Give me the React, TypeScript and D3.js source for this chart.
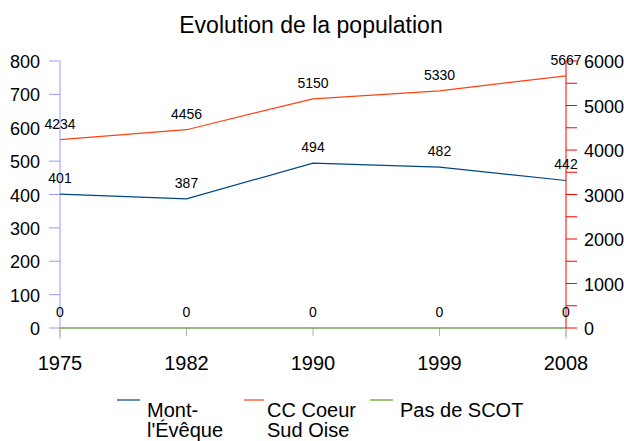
import React from "react";
import * as d3 from "d3";

const years = ["1975", "1982", "1990", "1999", "2008"];
const montEveque = [401, 387, 494, 482, 442];
const ccCoeur = [4234, 4456, 5150, 5330, 5667];
const pasDeScot = [0, 0, 0, 0, 0];
const leftTicks = [0, 100, 200, 300, 400, 500, 600, 700, 800];
const rightTicks = [0, 1000, 2000, 3000, 4000, 5000, 6000];
const rightMinor = d3.range(0, 6001, 500);

const FONT = "'Liberation Sans', Arial, sans-serif";

export default function App() {
  const W = 624, H = 441;
  const x0 = 60, x1 = 566, yTop = 61, yBot = 328;
  const x = d3.scalePoint<string>().domain(years).range([x0, x1]);
  const yL = d3.scaleLinear().domain([0, 800]).range([yBot, yTop]);
  const yR = d3.scaleLinear().domain([0, 6000]).range([yBot, yTop]);
  const lineL = d3.line<number>().x((_, i) => x(years[i])!).y((d) => yL(d));
  const lineR = d3.line<number>().x((_, i) => x(years[i])!).y((d) => yR(d));

  const blue = "#004586", orange = "#ff420e", green = "#579d1c";

  return (
    <svg width={W} height={H} style={{ position: "absolute", left: 0, top: 0, background: "#fff" }} fontFamily={FONT}>
      <text x={311} y={33} textAnchor="middle" fontSize={23}>Evolution de la population</text>
      {/* x category ticks */}
      {years.map((yr) => (
        <line key={yr} x1={x(yr)} x2={x(yr)} y1={yBot} y2={yBot + 8} stroke="#b3b3b3" />
      ))}
      <line x1={x0} x2={x1} y1={yBot} y2={yBot} stroke="#b3b3b3" />
      <line x1={x0} x2={x0} y1={yBot} y2={yBot + 11} stroke="#b3b3b3" />
      <line x1={x1} x2={x1} y1={yBot} y2={yBot + 11} stroke="#b3b3b3" />
      {years.map((yr) => (
        <text key={yr} x={x(yr)} y={370} textAnchor="middle" fontSize={20}>{yr}</text>
      ))}
      {/* left axis */}
      <line x1={x0} x2={x0} y1={yTop} y2={yBot} stroke="#9999ff" />
      {leftTicks.map((t) => (
        <g key={t}>
          <line x1={x0 - 11} x2={x0} y1={yL(t)} y2={yL(t)} stroke="#9999ff" />
          <text x={x0 - 20} y={yL(t) + 7} textAnchor="end" fontSize={18}>{t}</text>
        </g>
      ))}
      {/* right axis */}
      <line x1={x1} x2={x1} y1={yTop} y2={yBot} stroke="#ff0000" />
      {rightMinor.map((t) => (
        <line key={t} x1={x1} x2={x1 + 11} y1={yR(t)} y2={yR(t)} stroke="#ff0000" />
      ))}
      {rightTicks.map((t) => (
        <text key={t} x={x1 + 18} y={yR(t) + 7} textAnchor="start" fontSize={18}>{t}</text>
      ))}
      {/* lines */}
      <path d={lineL(pasDeScot)!} fill="none" stroke={green} strokeWidth={1.2} />
      <path d={lineL(montEveque)!} fill="none" stroke={blue} strokeWidth={1.2} />
      <path d={lineR(ccCoeur)!} fill="none" stroke={orange} strokeWidth={1.2} />
      {/* labels */}
      {montEveque.map((v, i) => (
        <text key={"m" + i} x={x(years[i])} y={yL(v) - 11} textAnchor="middle" fontSize={14}>{v}</text>
      ))}
      {ccCoeur.map((v, i) => (
        <text key={"c" + i} x={x(years[i])} y={yR(v) - 11} textAnchor="middle" fontSize={14}>{v}</text>
      ))}
      {pasDeScot.map((v, i) => (
        <text key={"p" + i} x={x(years[i])} y={yL(v) - 11} textAnchor="middle" fontSize={14}>{v}</text>
      ))}
      {/* legend */}
      <line x1={117} x2={140} y1={400} y2={400} stroke={blue} strokeWidth={1.2} />
      <text x={147} y={417} fontSize={20}>Mont-</text>
      <text x={147} y={437} fontSize={20}>l'Évêque</text>
      <line x1={244} x2={264} y1={400} y2={400} stroke={orange} strokeWidth={1.2} />
      <text x={267} y={417} fontSize={20}>CC Coeur</text>
      <text x={267} y={437} fontSize={20}>Sud Oise</text>
      <line x1={370} x2={393} y1={400} y2={400} stroke={green} strokeWidth={1.2} />
      <text x={400} y={417} fontSize={20}>Pas de SCOT</text>
    </svg>
  );
}
